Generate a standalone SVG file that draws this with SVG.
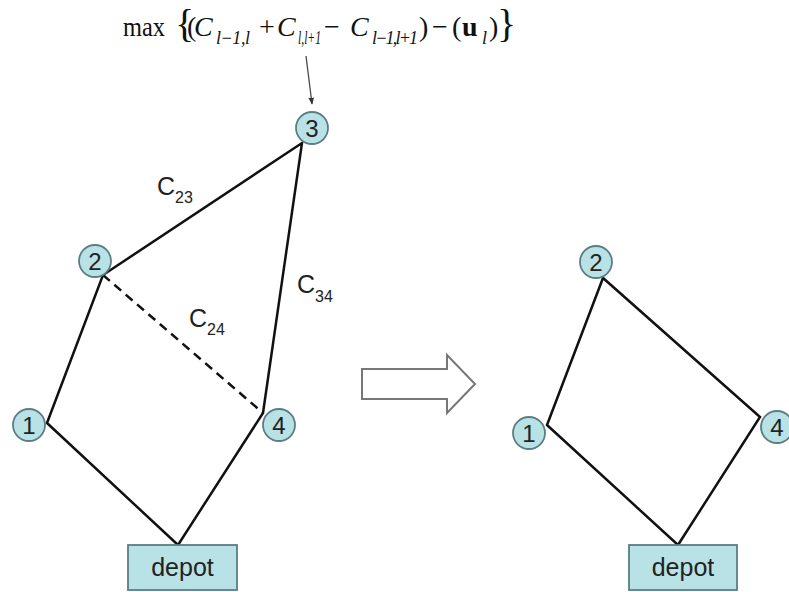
<svg xmlns="http://www.w3.org/2000/svg" width="789" height="592" viewBox="0 0 789 592">
<style>
.edge{stroke:#111;stroke-width:2.5;fill:none;stroke-linecap:round}
.dash{stroke-dasharray:9 6;stroke-linecap:butt}
.node circle{fill:#b9e2e6;stroke:#5b7d84;stroke-width:1.8}
.node rect{fill:#b9e2e6;stroke:#5b7d84;stroke-width:1.8}
.lbl{font-family:"Liberation Sans",Arial,sans-serif;font-size:24px;fill:#222;text-anchor:middle}
.dep{font-size:25px}
.cl{font-family:"Liberation Sans",Arial,sans-serif;fill:#222;font-size:25px}
.sb{font-size:16px}
.f{font-family:"Liberation Serif","Times New Roman",serif;fill:#111}
.m{font-size:28px}
.s{font-size:18px}
.i{font-style:italic}
.b{font-weight:bold}
.br{font-size:40px}
</style>
<defs>
<marker id="ah" viewBox="0 0 10 10" refX="9" refY="5" markerWidth="7" markerHeight="8" orient="auto" markerUnits="userSpaceOnUse">
<path d="M0,1 L10,5 L0,9 z" fill="#333"/>
</marker>
</defs>
<g id="formula" class="f">
<text class="m" x="123" y="36" textLength="42" lengthAdjust="spacingAndGlyphs">max</text>
<text class="br" x="175" y="37">{</text>
<text class="m" x="187" y="36">(</text>
<text class="m i" x="194" y="36">C</text>
<text class="s i" x="216" y="44" textLength="34" lengthAdjust="spacing">l−1,l</text>
<text class="m" x="259" y="36">+</text>
<text class="m i" x="277" y="36">C</text>
<text class="s i" x="298" y="44" textLength="23" lengthAdjust="spacingAndGlyphs">l,l+1</text>
<text class="m" x="324" y="36">−</text>
<text class="m i" x="350" y="36">C</text>
<text class="s i" x="372" y="44" textLength="46" lengthAdjust="spacing">l−1,l+1</text>
<text class="m" x="419" y="36">)</text>
<text class="m" x="432" y="36">−</text>
<text class="m" x="452" y="36">(</text>
<text class="m b" x="462" y="36">u</text>
<text class="s i" x="482" y="44">l</text>
<text class="m" x="489" y="36">)</text>
<text class="br" x="497" y="37">}</text>
</g>
<g id="connectors">
<line x1="306" y1="56" x2="312" y2="104" stroke="#444" stroke-width="1.3" marker-end="url(#ah)"/>
<polyline class="edge" points="47,423 103,275 302,143 263,413 178,545 47,423"/>
<line class="edge dash" x1="103" y1="275" x2="263" y2="413"/>
<polyline class="edge" points="547,425 603,278 760,417 678,545 547,425"/>
<path d="M362,369 H447 V355 L475,384 L447,413 V399 H362 Z" fill="#fff" stroke="#777" stroke-width="2"/>
</g>
<g id="edge-labels">
<text class="cl" x="157" y="195">C<tspan class="sb" dy="8">23</tspan></text>
<text class="cl" x="297" y="293">C<tspan class="sb" dy="9">34</tspan></text>
<text class="cl" x="189" y="327">C<tspan class="sb" dy="8">24</tspan></text>
</g>
<g id="L3" class="node"><circle cx="312" cy="128" r="16"/><text class="lbl" x="312" y="136.5">3</text></g>
<g id="L2" class="node"><circle cx="95" cy="261" r="16"/><text class="lbl" x="95" y="269.5">2</text></g>
<g id="L1" class="node"><circle cx="29" cy="425" r="16"/><text class="lbl" x="29" y="433.5">1</text></g>
<g id="L4" class="node"><circle cx="279" cy="425" r="16"/><text class="lbl" x="279" y="433.5">4</text></g>
<g id="Ldepot" class="node"><rect x="128" y="545" width="109" height="45"/><text class="lbl dep" x="182.5" y="576">depot</text></g>
<g id="R2" class="node"><circle cx="596" cy="262" r="16"/><text class="lbl" x="596" y="270.5">2</text></g>
<g id="R1" class="node"><circle cx="529" cy="433" r="16"/><text class="lbl" x="529" y="441.5">1</text></g>
<g id="R4" class="node"><circle cx="777" cy="427" r="16"/><text class="lbl" x="777" y="435.5">4</text></g>
<g id="Rdepot" class="node"><rect x="629" y="545" width="108" height="45"/><text class="lbl dep" x="683" y="576">depot</text></g>
</svg>
